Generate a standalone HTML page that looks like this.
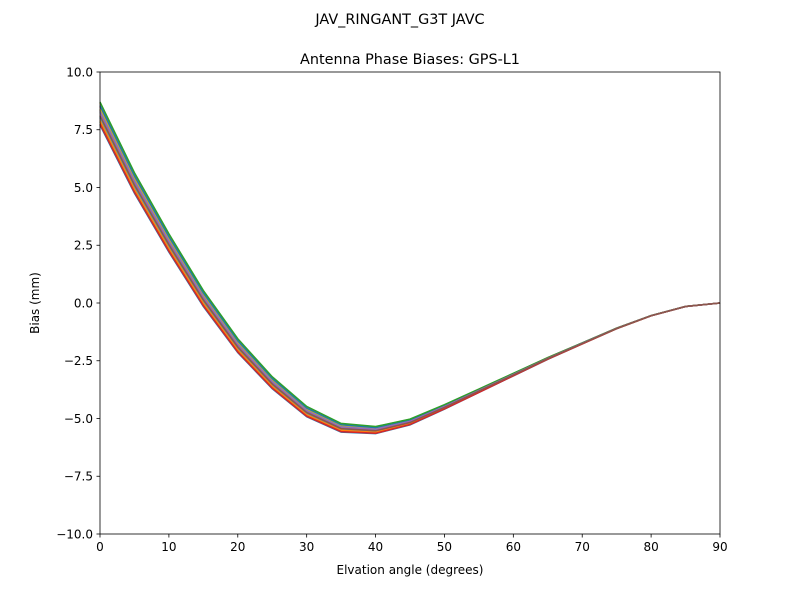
<!DOCTYPE html>
<html><head><meta charset="utf-8"><style>
html,body{margin:0;padding:0;background:#fff;}
svg text{font-family:"DejaVu Sans","Liberation Sans",sans-serif;fill:#000;}
</style></head><body>
<svg id="s" width="800" height="600" xmlns="http://www.w3.org/2000/svg">
<rect width="800" height="600" fill="#fff"/>
<text x="400" y="24" font-size="14.4" text-anchor="middle">JAV_RINGANT_G3T JAVC</text>
<text x="410" y="64" font-size="14.4" text-anchor="middle">Antenna Phase Biases: GPS-L1</text>
<g id="lines"></g>
<rect x="100" y="72" width="620" height="462" fill="none" stroke="#000" stroke-width="0.8"/>
<g id="ticks" font-size="12"></g>
<text x="410" y="574" font-size="12" text-anchor="middle">Elvation angle (degrees)</text>
<text transform="translate(39,303) rotate(-90)" font-size="12" text-anchor="middle">Bias (mm)</text>
</svg>
<script>
var X=function(e){return 100+e*620/90;}, Y=function(v){return 303-v*23.1;};
var base=[8.2,5.2,2.6,0.2,-1.85,-3.45,-4.7,-5.4,-5.5,-5.15,-4.5,-3.8,-3.1,-2.4,-1.75,-1.1,-0.55,-0.15,0];
var cols=["#1f77b4","#ff7f0e","#2ca02c","#d62728","#9467bd","#8c564b","#e377c2","#7f7f7f","#bcbd22","#17becf"];
var ks=[-0.5,0.45,-0.35,0.3,-0.2,0.15,-0.05,0.05,0.2,-0.15,0.35,-0.3,0.5,-0.45,0.1,-0.1];
var h="";
ks.forEach(function(k,i){
  var p=[];
  for(var j=0;j<19;j++){var e=j*5;var f=Math.pow((90-e)/90,2);p.push(X(e).toFixed(1)+","+Y(base[j]+k*f).toFixed(1));}
  h+='<polyline fill="none" stroke="'+cols[i%10]+'" stroke-width="1.5" points="'+p.join(" ")+'"/>';
});
document.getElementById("lines").innerHTML=h;
var t="";
for(var e=0;e<=90;e+=10){var x=X(e);t+='<line x1="'+x+'" y1="534" x2="'+x+'" y2="537.5" stroke="#000" stroke-width="0.8"/><text x="'+x+'" y="551" text-anchor="middle">'+e+'</text>';}
for(var v=-10;v<=10;v+=2.5){var y=Y(v);var s=(v<0?"\u2212":"")+Math.abs(v).toFixed(1);t+='<line x1="96.5" y1="'+y+'" x2="100" y2="'+y+'" stroke="#000" stroke-width="0.8"/><text x="93" y="'+(y+4.3)+'" text-anchor="end">'+s+'</text>';}
document.getElementById("ticks").innerHTML=t;
</script>
</body></html>
